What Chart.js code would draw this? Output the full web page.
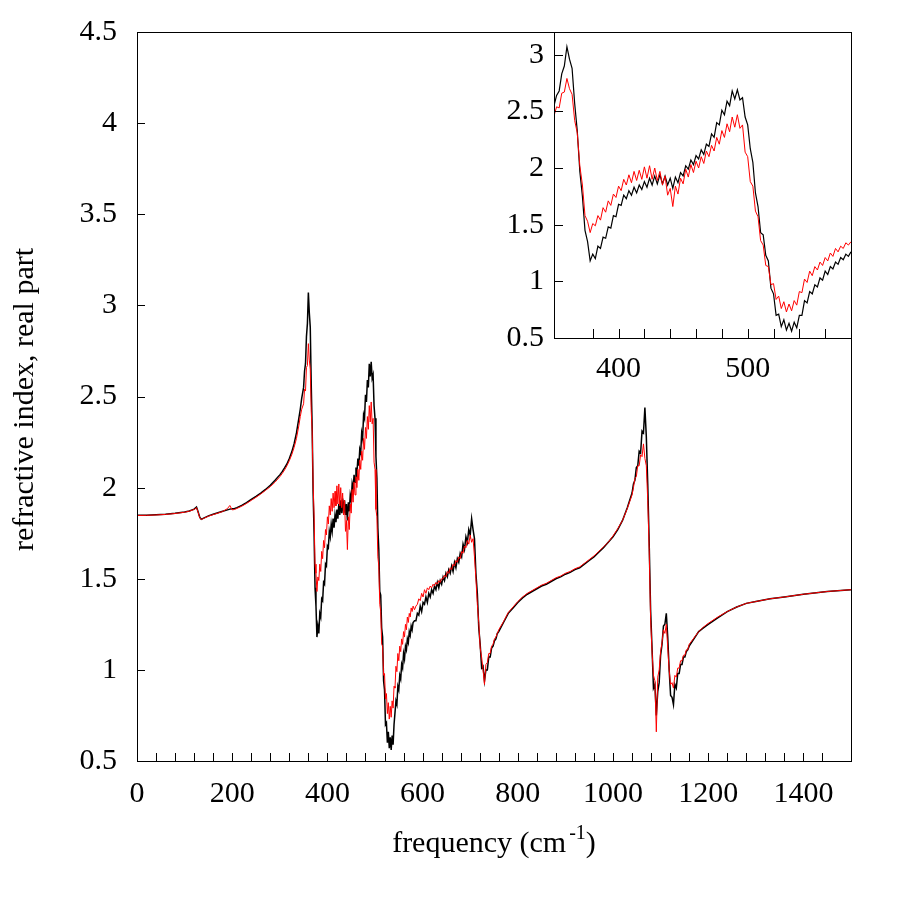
<!DOCTYPE html>
<html>
<head>
<meta charset="utf-8">
<title>refractive index, real part</title>
<script src="https://cdn.jsdelivr.net/npm/chart.js@4.4.1/dist/chart.umd.min.js"></script>
<style>
  html, body { margin: 0; padding: 0; background: #fff; }
  #wrap { position: relative; width: 900px; height: 900px; }
  #wrap canvas { position: absolute; left: 0; top: 0; }
</style>
</head>
<body>
<div id="wrap">
  <canvas id="mainChart" width="900" height="900"></canvas>
  <canvas id="insetChart" width="900" height="900"></canvas>
</div>
<script>
// frequencies (cm-1) and real part of the refractive index
// 0 - 346 : flat part with the small kink near 130
const freqFlat = [0, 20, 40, 60, 80, 100, 110, 120, 125, 128, 132, 135, 140, 150, 160, 170, 180, 190, 195, 200,
  205, 210, 220, 230, 240, 250, 260, 270, 280, 290, 300, 305, 310, 315, 320, 325, 330, 335, 340, 343, 346];
const blackFlat = [1.848, 1.849, 1.851, 1.854, 1.859, 1.866, 1.872, 1.882, 1.893, 1.870, 1.836, 1.826, 1.833, 1.845, 1.854, 1.862, 1.870, 1.878, 1.882, 1.884,
  1.886, 1.890, 1.903, 1.918, 1.935, 1.952, 1.970, 1.990, 2.013, 2.040, 2.070, 2.088, 2.108, 2.130, 2.160, 2.195, 2.240, 2.300, 2.380, 2.430, 2.490];
const redFlat = [1.847, 1.848, 1.850, 1.853, 1.858, 1.865, 1.871, 1.880, 1.890, 1.868, 1.834, 1.825, 1.831, 1.843, 1.852, 1.860, 1.869, 1.885, 1.902, 1.878,
  1.880, 1.886, 1.898, 1.913, 1.930, 1.947, 1.965, 1.985, 2.005, 2.030, 2.060, 2.077, 2.097, 2.120, 2.148, 2.180, 2.220, 2.270, 2.340, 2.390, 2.430];

// 350 - 580 : the region shown in the inset
const freqMid = [350, 352, 354, 356, 358, 360, 362, 364, 366, 368,
  370, 372, 374, 376, 378, 380, 382, 384, 386, 388,
  390, 392, 394, 396, 398, 400, 402, 404, 406, 408,
  410, 412, 414, 416, 418, 420, 422, 424, 426, 428,
  430, 432, 434, 436, 438, 440, 442, 444, 446, 448,
  450, 452, 454, 456, 458, 460, 462, 464, 466, 468,
  470, 472, 474, 476, 478, 480, 482, 484, 486, 488,
  490, 492, 494, 496, 498, 500, 502, 504, 506, 508,
  510, 512, 514, 516, 518, 520, 522, 524, 526, 528,
  530, 532, 534, 536, 538, 540, 542, 544, 546, 548,
  550, 552, 554, 556, 558, 560, 562, 564, 566, 568,
  570, 572, 574, 576, 578, 580];
const blackMid = [2.55, 2.64, 2.68, 2.83, 2.90, 3.07, 2.96, 2.88, 2.57, 2.33,
  1.97, 1.75, 1.45, 1.35, 1.18, 1.24, 1.20, 1.31, 1.29, 1.39,
  1.38, 1.48, 1.47, 1.58, 1.57, 1.68, 1.67, 1.76, 1.73, 1.80,
  1.76, 1.83, 1.78, 1.85, 1.81, 1.88, 1.83, 1.91, 1.85, 1.93,
  1.86, 1.94, 1.86, 1.93, 1.85, 1.91, 1.82, 1.92, 1.87, 1.96,
  1.93, 2.02, 1.99, 2.07, 2.03, 2.11, 2.08, 2.16, 2.12, 2.21,
  2.19, 2.30, 2.27, 2.40, 2.38, 2.51, 2.47, 2.59, 2.55, 2.68,
  2.61, 2.69, 2.60, 2.62, 2.45, 2.38, 2.17, 2.05, 1.78, 1.66,
  1.43, 1.41, 1.23, 1.18, 0.94, 0.89, 0.70, 0.71, 0.60, 0.66,
  0.57, 0.63, 0.56, 0.64, 0.59, 0.70, 0.70, 0.83, 0.81, 0.91,
  0.89, 0.97, 0.95, 1.03, 1.01, 1.09, 1.06, 1.13, 1.11, 1.17,
  1.15, 1.21, 1.19, 1.24, 1.22, 1.26];
const redMid = [2.46, 2.54, 2.53, 2.66, 2.67, 2.79, 2.70, 2.65, 2.42, 2.31,
  2.02, 1.85, 1.58, 1.53, 1.43, 1.51, 1.49, 1.58, 1.54, 1.65,
  1.61, 1.71, 1.67, 1.77, 1.74, 1.84, 1.80, 1.90, 1.85, 1.94,
  1.87, 1.97, 1.89, 1.98, 1.90, 2.01, 1.91, 2.02, 1.90, 2.00,
  1.89, 1.97, 1.85, 1.93, 1.76, 1.82, 1.66, 1.84, 1.77, 1.91,
  1.86, 1.99, 1.92, 2.03, 1.96, 2.06, 2.00, 2.10, 2.04, 2.15,
  2.10, 2.20, 2.15, 2.27, 2.21, 2.33, 2.27, 2.39, 2.32, 2.45,
  2.36, 2.47, 2.35, 2.38, 2.14, 2.10, 1.88, 1.84, 1.62, 1.57,
  1.36, 1.32, 1.14, 1.13, 0.97, 0.98, 0.84, 0.87, 0.76, 0.82,
  0.73, 0.80, 0.74, 0.83, 0.79, 0.91, 0.90, 1.02, 0.99, 1.09,
  1.05, 1.13, 1.10, 1.17, 1.14, 1.21, 1.18, 1.25, 1.22, 1.29,
  1.26, 1.31, 1.29, 1.34, 1.32, 1.35];

// 583 - 760 : hump near 700 and dip near 730
const freqHump = [583, 586, 589, 592, 595, 598, 601, 604, 607, 610,
  613, 616, 619, 622, 625, 628, 631, 634, 637, 640,
  643, 646, 649, 652, 655, 658, 661, 664, 667, 670,
  673, 676, 679, 682, 685, 688, 691, 694, 697, 700,
  703, 706, 709, 712, 715, 718, 721, 724, 727, 730,
  733, 736, 739, 742, 745, 748, 751, 754, 757, 760];
const blackHump = [1.27, 1.27, 1.31, 1.30, 1.35, 1.32, 1.37, 1.36, 1.40, 1.37,
  1.42, 1.40, 1.44, 1.42, 1.46, 1.44, 1.48, 1.45, 1.49, 1.47,
  1.51, 1.49, 1.53, 1.51, 1.55, 1.53, 1.57, 1.54, 1.59, 1.56,
  1.61, 1.59, 1.64, 1.62, 1.69, 1.66, 1.73, 1.70, 1.77, 1.74,
  1.83, 1.77, 1.72, 1.53, 1.42, 1.23, 1.14, 1.01, 1.02, 0.94,
  1.00, 1.00, 1.07, 1.07, 1.12, 1.13, 1.16, 1.17, 1.20, 1.21];
const redHump = [1.33, 1.35, 1.36, 1.39, 1.38, 1.42, 1.40, 1.44, 1.42, 1.45,
  1.44, 1.46, 1.45, 1.47, 1.46, 1.48, 1.47, 1.49, 1.48, 1.50,
  1.50, 1.52, 1.51, 1.54, 1.53, 1.56, 1.55, 1.58, 1.57, 1.60,
  1.59, 1.62, 1.61, 1.65, 1.64, 1.68, 1.67, 1.71, 1.69, 1.74,
  1.70, 1.72, 1.62, 1.50, 1.36, 1.26, 1.12, 1.07, 1.00, 0.92,
  1.03, 1.04, 1.09, 1.09, 1.13, 1.14, 1.17, 1.18, 1.20, 1.22];

// 770 - 1040 : smooth rise
const freqSlope = [770, 780, 790, 800, 810, 820, 830, 840, 850, 860,
  870, 880, 890, 900, 910, 920, 930, 940, 950, 960,
  970, 980, 990, 1000, 1010, 1020, 1030, 1040];
const blackSlope = [1.26, 1.31, 1.34, 1.37, 1.395, 1.415, 1.43, 1.445, 1.46, 1.47,
  1.485, 1.50, 1.51, 1.525, 1.535, 1.55, 1.56, 1.58, 1.60, 1.62,
  1.645, 1.67, 1.70, 1.73, 1.77, 1.82, 1.89, 1.97];
const redSlope = [1.265, 1.315, 1.345, 1.375, 1.40, 1.42, 1.435, 1.45, 1.465, 1.475,
  1.49, 1.505, 1.515, 1.53, 1.54, 1.555, 1.565, 1.585, 1.605, 1.625,
  1.65, 1.675, 1.70, 1.735, 1.775, 1.82, 1.885, 1.96];

// 1043 - 1160 : peak near 1065 and double dip
const freqPeak = [1043, 1046, 1049, 1052, 1055, 1058, 1061, 1064, 1067, 1070,
  1073, 1076, 1079, 1082, 1085, 1088, 1091, 1094, 1097, 1100,
  1103, 1106, 1109, 1112, 1115, 1118, 1121, 1124, 1127, 1130,
  1133, 1136, 1139, 1142, 1145, 1148, 1151, 1154, 1157, 1160];
const blackPeak = [2.02, 2.04, 2.11, 2.12, 2.20, 2.19, 2.31, 2.30, 2.44, 2.28,
  2.02, 1.70, 1.33, 1.12, 0.90, 0.92, 0.75, 0.88, 0.93, 1.08,
  1.14, 1.24, 1.25, 1.31, 1.18, 1.00, 0.86, 0.85, 0.81, 0.92,
  0.90, 0.98, 0.98, 1.03, 1.03, 1.07, 1.07, 1.10, 1.11, 1.13];
const redPeak = [2.00, 2.05, 2.06, 2.12, 2.12, 2.18, 2.17, 2.24, 2.16, 2.12,
  1.93, 1.66, 1.28, 1.10, 0.97, 0.94, 0.66, 0.96, 1.00, 1.10,
  1.15, 1.22, 1.20, 1.25, 1.12, 1.00, 0.92, 0.93, 0.90, 0.97,
  0.96, 1.01, 1.01, 1.05, 1.05, 1.08, 1.08, 1.11, 1.11, 1.14];

// 1170 - 1500 : tail
const freqTail = [1170, 1180, 1190, 1200, 1220, 1240, 1260, 1280, 1300, 1330, 1360, 1400, 1450, 1500];
const blackTail = [1.17, 1.21, 1.23, 1.25, 1.285, 1.32, 1.345, 1.365, 1.375, 1.39, 1.40, 1.415, 1.43, 1.44];
const redTail = [1.175, 1.21, 1.235, 1.255, 1.29, 1.32, 1.345, 1.365, 1.375, 1.39, 1.40, 1.415, 1.43, 1.44];

// tick labels
const mainYTicks = [0.5, 1, 1.5, 2, 2.5, 3, 3.5, 4, 4.5];
const insetYTicks = [0.5, 1, 1.5, 2, 2.5, 3];

const freq = freqFlat.concat(freqMid, freqHump, freqSlope, freqPeak, freqTail);
const blackN = blackFlat.concat(blackMid, blackHump, blackSlope, blackPeak, blackTail);
const redN = redFlat.concat(redMid, redHump, redSlope, redPeak, redTail);

const FONT = "'Liberation Serif', 'DejaVu Serif', serif";
const tickFont = { family: FONT, size: 30 };
const yTickFont = { family: FONT, size: 30, lineHeight: 0.6 };

function toPoints(xs, ys) {
  return xs.map((x, i) => ({ x: x, y: ys[i] }));
}

function makeDatasets(blackWidth) {
  return [
    { label: "red", data: toPoints(freq, redN), borderColor: "#ff0000", borderWidth: 1,
      pointRadius: 0, tension: 0, order: 0 },
    { label: "black", data: toPoints(freq, blackN), borderColor: "#000000", borderWidth: blackWidth,
      pointRadius: 0, tension: 0, order: 1 },
  ];
}

// frame, inward tick marks and axis titles
const boxTicks = {
  id: "boxTicks",
  beforeDraw(chart, args, opts) {
    if (!opts.fill) return;
    const a = chart.chartArea;
    chart.ctx.save();
    chart.ctx.fillStyle = "#fff";
    chart.ctx.fillRect(a.left, a.top, a.right - a.left, a.bottom - a.top);
    chart.ctx.restore();
  },
  afterDraw(chart, args, opts) {
    const ctx = chart.ctx;
    const a = chart.chartArea;
    const xs = chart.scales.x;
    const ys = chart.scales.y;
    ctx.save();
    ctx.strokeStyle = "#000";
    ctx.lineWidth = 1;
    ctx.beginPath();
    xs.ticks.forEach((t) => {
      if (t.value % opts.xStep !== 0) return;
      const px = Math.round(xs.getPixelForValue(t.value)) + 0.5;
      if (px < a.left + 2 || px > a.right - 2) return;
      ctx.moveTo(px, a.bottom);
      ctx.lineTo(px, a.bottom - opts.len);
    });
    ys.ticks.forEach((t) => {
      const py = Math.round(ys.getPixelForValue(t.value)) + 0.5;
      if (py < a.top + 2 || py > a.bottom - 2) return;
      ctx.moveTo(a.left, py);
      ctx.lineTo(a.left + opts.len, py);
    });
    ctx.stroke();
    ctx.strokeRect(Math.round(a.left) + 0.5, Math.round(a.top) + 0.5,
      Math.round(a.right - a.left), Math.round(a.bottom - a.top));

    if (opts.titles) {
      ctx.fillStyle = "#000";
      ctx.textBaseline = "alphabetic";
      // x title with superscript
      const big = "30px " + FONT;
      const small = "20px " + FONT;
      ctx.font = big;
      const w1 = ctx.measureText("frequency (cm").width;
      const w3 = ctx.measureText(")").width;
      ctx.font = small;
      const w2 = ctx.measureText("-1").width + 3;
      const x = (a.left + a.right) / 2 - (w1 + w2 + w3) / 2;
      const base = 852;
      ctx.textAlign = "left";
      ctx.font = big;
      ctx.fillText("frequency (cm", x, base);
      ctx.font = small;
      ctx.fillText("-1", x + w1 + 3, base - 13);
      ctx.font = big;
      ctx.fillText(")", x + w1 + w2, base);
      // y title
      ctx.translate(33, (a.top + a.bottom) / 2 + 3);
      ctx.rotate(-Math.PI / 2);
      ctx.textAlign = "center";
      ctx.font = big;
      ctx.fillText("refractive index, real part", 0, 0);
    }
    ctx.restore();
  },
};

function baseOptions() {
  return {
    responsive: false,
    devicePixelRatio: 1,
    animation: false,
    events: [],
    layout: { padding: { left: 0, right: 49, top: 32, bottom: 0 } },
    plugins: { legend: { display: false }, tooltip: { enabled: false } },
  };
}

// main chart
const mainOpts = baseOptions();
mainOpts.plugins.boxTicks = { xStep: 40, len: 8, titles: true, fill: false };
mainOpts.scales = {
  x: {
    type: "linear", min: 0, max: 1500,
    grid: { display: false, drawTicks: false }, border: { display: false },
    ticks: { stepSize: 40, maxTicksLimit: 100, autoSkip: false, maxRotation: 0, padding: 15,
      font: tickFont, color: "#000",
      callback: (v) => (v % 200 === 0 ? String(v) : "") },
    afterFit: (s) => { s.height = 139; },
  },
  y: {
    type: "linear", min: 0.5, max: 4.5,
    grid: { display: false, drawTicks: false }, border: { display: false },
    ticks: { padding: 20, font: yTickFont, color: "#000", callback: (v) => String(v) },
    afterBuildTicks: (s) => { s.ticks = mainYTicks.map((v) => ({ value: v })); },
    afterFit: (s) => { s.width = 137; },
  },
};

new Chart(document.getElementById("mainChart"), {
  type: "line",
  data: { datasets: makeDatasets(1.5) },
  options: mainOpts,
  plugins: [boxTicks],
});

// inset: zoom on 350 - 580
const insetOpts = baseOptions();
insetOpts.plugins.boxTicks = { xStep: 20, len: 9, titles: false, fill: true };
insetOpts.scales = {
  x: {
    type: "linear", min: 350, max: 580,
    grid: { display: false, drawTicks: false }, border: { display: false },
    ticks: { stepSize: 20, maxTicksLimit: 100, autoSkip: false, maxRotation: 0, padding: 13,
      font: tickFont, color: "#000",
      callback: (v) => (v % 100 === 0 ? String(v) : "") },
    afterFit: (s) => { s.height = 562; },
  },
  y: {
    type: "linear", min: 0.5, max: 3.2,
    grid: { display: false, drawTicks: false }, border: { display: false },
    ticks: { padding: 10, font: yTickFont, color: "#000", callback: (v) => String(v) },
    afterBuildTicks: (s) => { s.ticks = insetYTicks.map((v) => ({ value: v })); },
    afterFit: (s) => { s.width = 554; },
  },
};

new Chart(document.getElementById("insetChart"), {
  type: "line",
  data: { datasets: makeDatasets(1.2) },
  options: insetOpts,
  plugins: [boxTicks],
});
</script>
</body>
</html>
